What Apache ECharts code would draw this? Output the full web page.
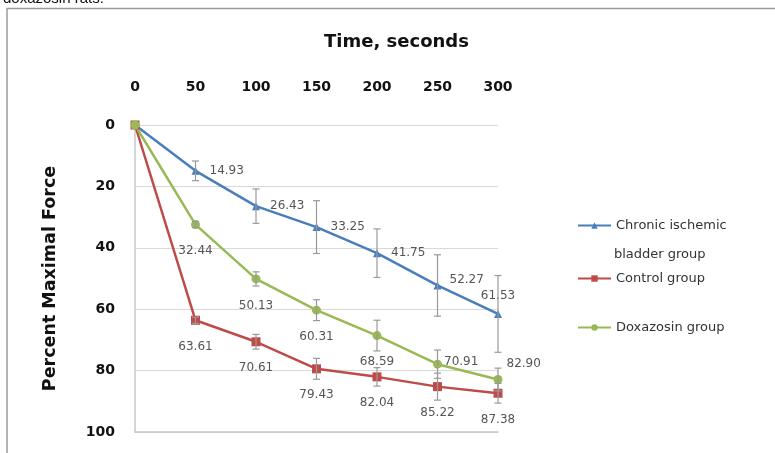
<!DOCTYPE html>
<html>
<head>
<meta charset="utf-8">
<script src="https://cdn.jsdelivr.net/npm/echarts@6/dist/echarts.min.js"></script>
<style>html,body{margin:0;padding:0;background:#fff;}#c{width:775px;height:453px;}</style>
</head>
<body>
<div id="c"></div>
<script>
const times = [0, 50, 100, 150, 200, 250, 300];
const xTicks = ['0', '50', '100', '150', '200', '250', '300'];
const chronic = [0, 14.93, 26.43, 33.25, 41.75, 52.27, 61.53];
const control = [0, 63.61, 70.61, 79.43, 82.04, 85.22, 87.38];
const doxazosin = [0, 32.44, 50.13, 60.31, 68.59, 77.91, 82.90];
const chronicLabels = ['', '14.93', '26.43', '33.25', '41.75', '52.27', '61.53'];
const controlLabels = ['', '63.61', '70.61', '79.43', '82.04', '85.22', '87.38'];
const doxazosinLabels = ['', '32.44', '50.13', '60.31', '68.59', '70.91', '82.90'];
const chronicErr = [0, 3.2, 5.6, 8.6, 7.9, 10.0, 12.5];
const controlErr = [0, 1.0, 2.4, 3.4, 3.0, 4.4, 3.2];
const doxazosinErr = [0, 1.0, 2.3, 3.4, 5.0, 4.6, 3.7];
const names = ['Chronic ischemic bladder group', 'Control group', 'Doxazosin group'];

const C_BLUE = '#4A7EBB', C_RED = '#BE4B48', C_GREEN = '#98B954';
const labelFont = { fontFamily: 'DejaVu Sans', fontSize: 12, color: '#555' };

// label placement styles (not data)
const chronicPlace = i => i === 6 ? { position: 'top', distance: 8 } :
  (i === 5 ? { position: 'right', distance: 8, offset: [0, -6] } : { position: 'right', distance: 10 });
const controlPlace = i => ({ position: 'bottom', distance: 16 });
const doxPlace = i => i === 6 ? { position: 'right', distance: 4, offset: [0, -16] } :
  (i === 5 ? { position: 'right', distance: 2, offset: [0, -2] } : { position: 'bottom', distance: 16 });

function buildLine(name, vals, labels, place, color, symbol, size) {
  return {
    type: 'line', name: name, xAxisIndex: 0, yAxisIndex: 0,
    symbol: symbol, symbolSize: size,
    lineStyle: { color: color, width: 2.5 },
    itemStyle: { color: color },
    z: 3,
    data: times.map((t, i) => ({
      value: [t, vals[i]],
      label: Object.assign({ show: labels[i] !== '', formatter: labels[i] }, labelFont, place(i))
    }))
  };
}

function buildErr(vals, err) {
  const d = [];
  times.forEach((t, i) => { if (err[i] > 0) d.push([t, vals[i] - err[i], vals[i] + err[i]]); });
  return {
    type: 'custom', xAxisIndex: 0, yAxisIndex: 0, z: 4, silent: true,
    renderItem: function (params, api) {
      const x = api.value(0);
      const a = api.coord([x, api.value(1)]);
      const b = api.coord([x, api.value(2)]);
      const w = 3.5, st = { stroke: '#999999', lineWidth: 1.2 };
      return { type: 'group', children: [
        { type: 'line', shape: { x1: a[0], y1: a[1], x2: b[0], y2: b[1] }, style: st },
        { type: 'line', shape: { x1: a[0] - w, y1: a[1], x2: a[0] + w, y2: a[1] }, style: st },
        { type: 'line', shape: { x1: b[0] - w, y1: b[1], x2: b[0] + w, y2: b[1] }, style: st }
      ]};
    },
    data: d
  };
}

const legendText = { fontFamily: 'DejaVu Sans', fontSize: 13, color: '#333' };
function legendAt(name, top, fmt) {
  return { data: [name], left: 577, top: top, orient: 'vertical', itemWidth: 33, itemHeight: 8,
    itemGap: 0, padding: 0, textStyle: legendText, selectedMode: false,
    formatter: fmt || (n => n) };
}

const chart = echarts.init(document.getElementById('c'), null, { renderer: 'canvas' });
chart.setOption({
  animation: false,
  backgroundColor: '#fff',
  grid: { left: 135, right: 277, top: 125, bottom: 21 },
  legend: [
    legendAt(names[0], 219, () => 'Chronic ischemic'),
    legendAt(names[1], 272),
    legendAt(names[2], 321)
  ],
  graphic: [
    { type: 'polyline', shape: { points: [[7, 453], [7, 8.5], [775, 8.5]] },
      style: { stroke: '#9a9a9a', lineWidth: 1.5, fill: null } },
    { type: 'text', left: 3, top: -9, style: { text: 'doxazosin rats.', fontFamily: 'Liberation Sans', fontSize: 15, fill: '#111' } },
    { type: 'text', left: 614, top: 248, style: { text: 'bladder group', fontFamily: 'DejaVu Sans', fontSize: 13, fill: '#333' } }
  ],
  xAxis: [
    { type: 'value', position: 'top', min: 0, max: 300, interval: 50,
      name: 'Time, seconds', nameLocation: 'middle', nameGap: 74,
      nameTextStyle: { fontFamily: 'DejaVu Sans', fontWeight: 'bold', fontSize: 18, color: '#111',
        padding: [0, 0, 0, 160] },
      axisLine: { show: false }, axisTick: { show: false }, splitLine: { show: false },
      axisLabel: { margin: 31, fontFamily: 'DejaVu Sans', fontWeight: 'bold', fontSize: 14, color: '#111',
        formatter: v => xTicks[times.indexOf(v)] } },
    { type: 'value', position: 'bottom', min: 0, max: 300, interval: 50,
      axisLine: { show: true, lineStyle: { color: '#c8c8c8', width: 1.5 } },
      axisTick: { show: false }, axisLabel: { show: false }, splitLine: { show: false } }
  ],
  yAxis: [
    { type: 'value', inverse: true, min: 0, max: 100, interval: 20,
      name: 'Percent Maximal Force', nameLocation: 'middle', nameGap: 76, nameRotate: 90,
      nameTextStyle: { fontFamily: 'DejaVu Sans', fontWeight: 'bold', fontSize: 17.5, color: '#111' },
      axisLine: { show: true, lineStyle: { color: '#c8c8c8', width: 1.5 } },
      axisTick: { show: false },
      splitLine: { lineStyle: { color: '#d9d9d9', width: 1.2 } },
      axisLabel: { margin: 20, fontFamily: 'DejaVu Sans', fontWeight: 'bold', fontSize: 14, color: '#111' } }
  ],
  series: [
    buildLine(names[0], chronic, chronicLabels, chronicPlace, C_BLUE, 'triangle', 8),
    buildLine(names[1], control, controlLabels, controlPlace, C_RED, 'rect', 9),
    buildLine(names[2], doxazosin, doxazosinLabels, doxPlace, C_GREEN, 'circle', 9),
    buildErr(chronic, chronicErr),
    buildErr(control, controlErr),
    buildErr(doxazosin, doxazosinErr)
  ]
});
</script>
</body>
</html>
